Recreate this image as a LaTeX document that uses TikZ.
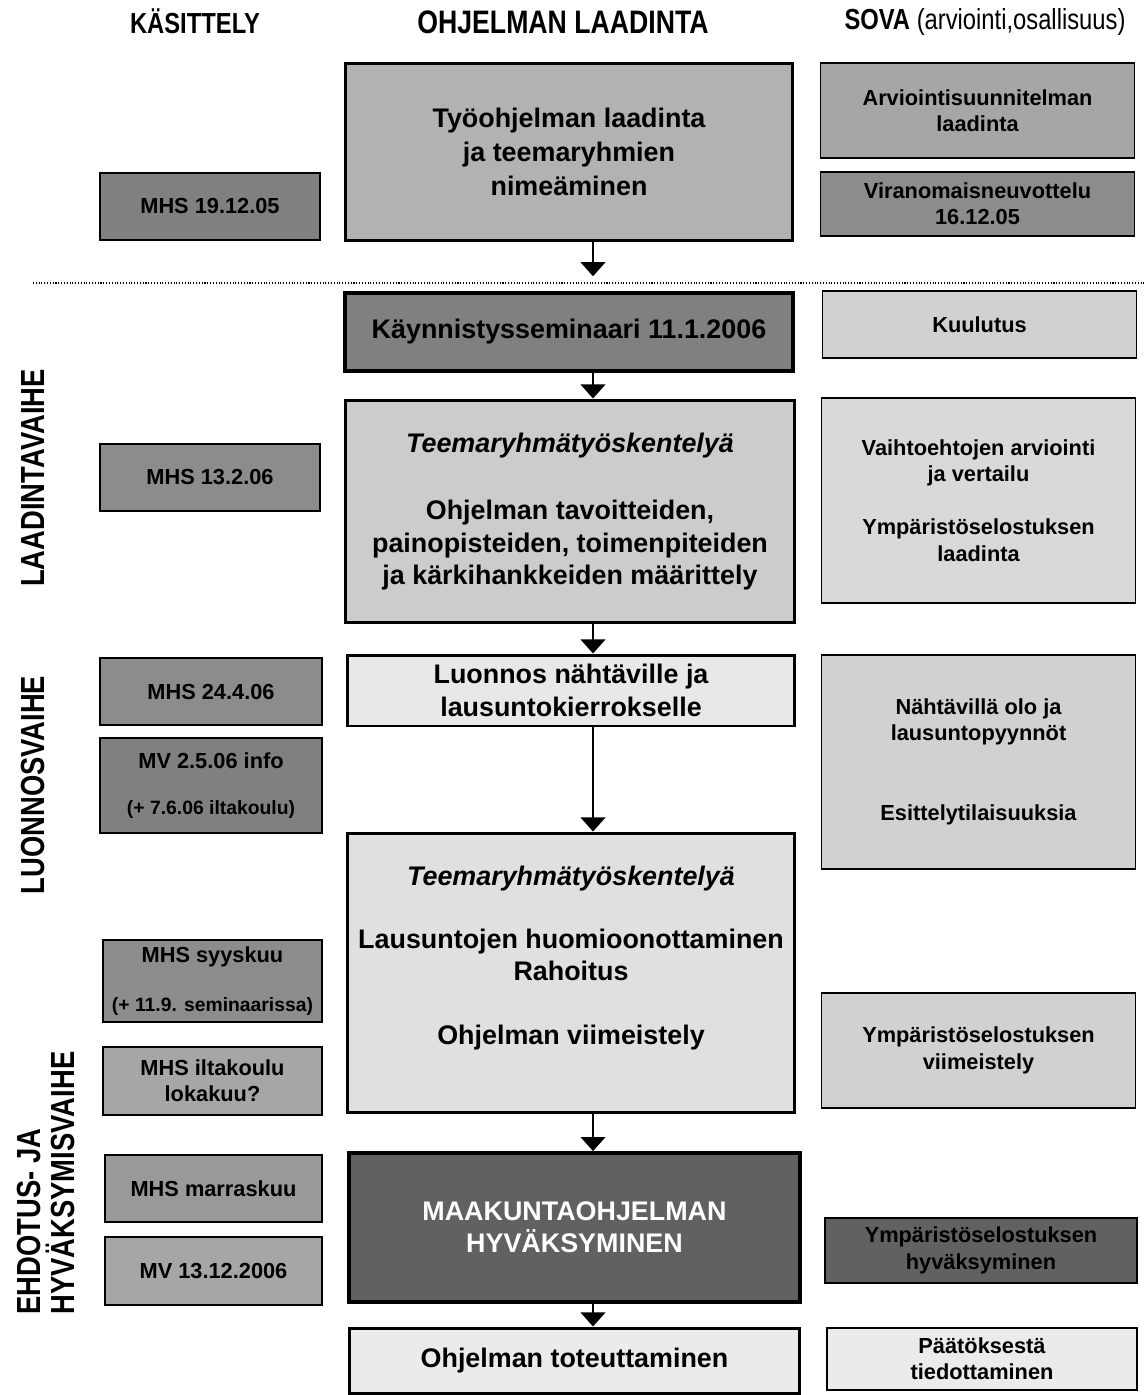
\documentclass[tikz,border=0pt]{standalone}
\usepackage{fontspec}
\setmainfont{Liberation Sans}
\newfontfamily\narrowfont[FakeStretch=0.82]{Liberation Sans}
\usepackage{tikz}
\usetikzlibrary{arrows.meta}
\usetikzlibrary{calc}

\newcommand{\midfont}{\fontsize{15.3}{18.4}\selectfont\bfseries}
\newcommand{\sidefont}{\fontsize{12.4}{15}\selectfont\bfseries}
\newcommand{\tinyfont}{\fontsize{11}{13}\selectfont\bfseries}

\begin{document}
\begin{tikzpicture}[x=0.02cm,y=-0.02cm,
  midbox/.style={draw,line width=1.7pt,align=center,inner sep=0pt,font=\midfont},
  leftbox/.style={draw,line width=1pt,align=center,inner sep=0pt,font=\sidefont,minimum height=1.34cm},
  sovabox/.style={draw,line width=0.8pt,align=center,inner sep=0pt,font=\sidefont,minimum width=6.28cm},
  head/.style={font=\narrowfont\fontsize{16.5}{19}\selectfont\bfseries},
  phase/.style={font=\narrowfont\fontsize{19}{23}\selectfont\bfseries,rotate=90,align=left},
  arr/.style={line width=1pt,-{Triangle[width=14pt,length=8pt]}}]
\useasboundingbox (0,0) rectangle (1144,1395);

\node[head] (hk) at (195,21) {KÄSITTELY};
\node[head,font=\narrowfont\fontsize{18.5}{21}\selectfont\bfseries] (ho) at (563,22) {OHJELMAN LAADINTA};
\node[head] (hs) at (985,22) {SOVA {\fontsize{16.5}{19}\selectfont\mdseries(arviointi,osallisuus)}};

\node[phase] (p1) at (33,478) {LAADINTAVAIHE};
\node[phase] (p2) at (33,785) {LUONNOSVAIHE};
\node[phase] (p3) at (46,1183) {EHDOTUS- JA\\[-4pt]HYVÄKSYMISVAIHE};

\coordinate (d1) at (33,283);
\coordinate (d2) at (1144,283);
\draw[densely dotted,line width=0.6pt] (d1) -- (d2);

\node[midbox,fill=black!30,minimum width=8.96cm,minimum height=3.56cm] (m1) at (569,152)
  {Työohjelman laadinta\\[1pt]ja teemaryhmien\\[1pt]nimeäminen};
\node[midbox,fill=black!50,line width=2pt,minimum width=8.96cm,minimum height=1.56cm] (m2) at (569,332)
  {Käynnistysseminaari 11.1.2006};
\node[midbox,fill=black!20,minimum width=9cm,minimum height=4.46cm] (m3) at (570,511.5)
  {\itshape Teemaryhmätyöskentelyä\\[0.7cm]Ohjelman tavoitteiden,\\painopisteiden, toimenpiteiden\\ja kärkihankkeiden määrittely};
\node[midbox,fill=black!9,minimum width=8.96cm,minimum height=1.42cm] (m4) at (571,690.5)
  {Luonnos nähtäville ja\\lausuntokierrokselle};
\node[midbox,fill=black!12,minimum width=8.96cm,minimum height=5.6cm] (m5) at (571,973)
  {\itshape Teemaryhmätyöskentelyä\\[0.6cm]Lausuntojen huomioonottaminen\\Rahoitus\\[0.64cm]Ohjelman viimeistely\\[0.05cm]\mbox{}};
\node[midbox,fill=black!62,line width=2.2pt,text=white,minimum width=9.02cm,minimum height=2.98cm] (m6) at (574.5,1227.5)
  {MAAKUNTAOHJELMAN\\HYVÄKSYMINEN};
\node[midbox,fill=black!8,minimum width=9.02cm,minimum height=1.3cm] (m7) at (574.5,1360.5)
  {Ohjelman toteuttaminen};

\coordinate (ax) at (593,0);
\draw[arr] (m1.south -| ax) -- ($(m2.north -| ax)+(0,-15)$);
\draw[arr] (m2.south -| ax) -- (m3.north -| ax);
\draw[arr] (m3.south -| ax) -- (m4.north -| ax);
\draw[arr] (m4.south -| ax) -- (m5.north -| ax);
\draw[arr] (m5.south -| ax) -- (m6.north -| ax);
\draw[arr] (m6.south -| ax) -- (m7.north -| ax);

\node[leftbox,fill=black!50,minimum width=4.4cm] (l1) at (210,206.5) {MHS 19.12.05};
\node[leftbox,fill=black!45,minimum width=4.4cm] (l2) at (210,477.5) {MHS 13.2.06};
\node[leftbox,fill=black!45,minimum width=4.44cm] (l3) at (211,691.5) {MHS 24.4.06};
\node[leftbox,fill=black!50,minimum width=4.44cm,minimum height=1.9cm] (l4) at (211,785.5)
  {MV 2.5.06 info\\[0.4cm]{\tinyfont(+ 7.6.06 iltakoulu)}};
\node[leftbox,fill=black!45,minimum width=4.38cm,minimum height=1.64cm] (l5) at (212.5,981)
  {MHS syyskuu\\[0.45cm]{\tinyfont(+ 11.9. seminaarissa)}};
\node[leftbox,fill=black!35,minimum width=4.38cm,minimum height=1.36cm] (l6) at (212.5,1081)
  {MHS iltakoulu\\lokakuu?};
\node[leftbox,fill=black!40,minimum width=4.34cm] (l7) at (213.5,1188.5) {MHS marraskuu};
\node[leftbox,fill=black!35,minimum width=4.34cm,minimum height=1.36cm] (l8) at (213.5,1271) {MV 13.12.2006};

\node[sovabox,fill=black!35,minimum height=1.9cm] (s1) at (977.5,110.5) {Arviointisuunnitelman\\laadinta};
\node[sovabox,fill=black!45,minimum height=1.28cm] (s2) at (977.5,204) {Viranomaisneuvottelu\\16.12.05};
\node[sovabox,fill=black!18,minimum height=1.34cm] (s3) at (979.5,324.5) {Kuulutus};
\node[sovabox,fill=black!15,minimum height=4.1cm] (s4) at (978.5,500.5)
  {Vaihtoehtojen arviointi\\ja vertailu\\[0.54cm]Ympäristöselostuksen\\laadinta};
\node[sovabox,fill=black!18,minimum height=4.28cm] (s5) at (978.5,762)
  {Nähtävillä olo ja\\lausuntopyynnöt\\[1.08cm]Esittelytilaisuuksia};
\node[sovabox,fill=black!18,minimum height=2.3cm] (s6) at (978.5,1050.5) {Ympäristöselostuksen\\viimeistely};
\node[sovabox,fill=black!62,minimum width=6.24cm,minimum height=1.3cm] (s7) at (981,1250.5) {Ympäristöselostuksen\\hyväksyminen};
\node[sovabox,fill=black!8,minimum width=6.2cm,minimum height=1.24cm] (s8) at (982,1359) {Päätöksestä\\tiedottaminen};
\end{tikzpicture}
\end{document}
